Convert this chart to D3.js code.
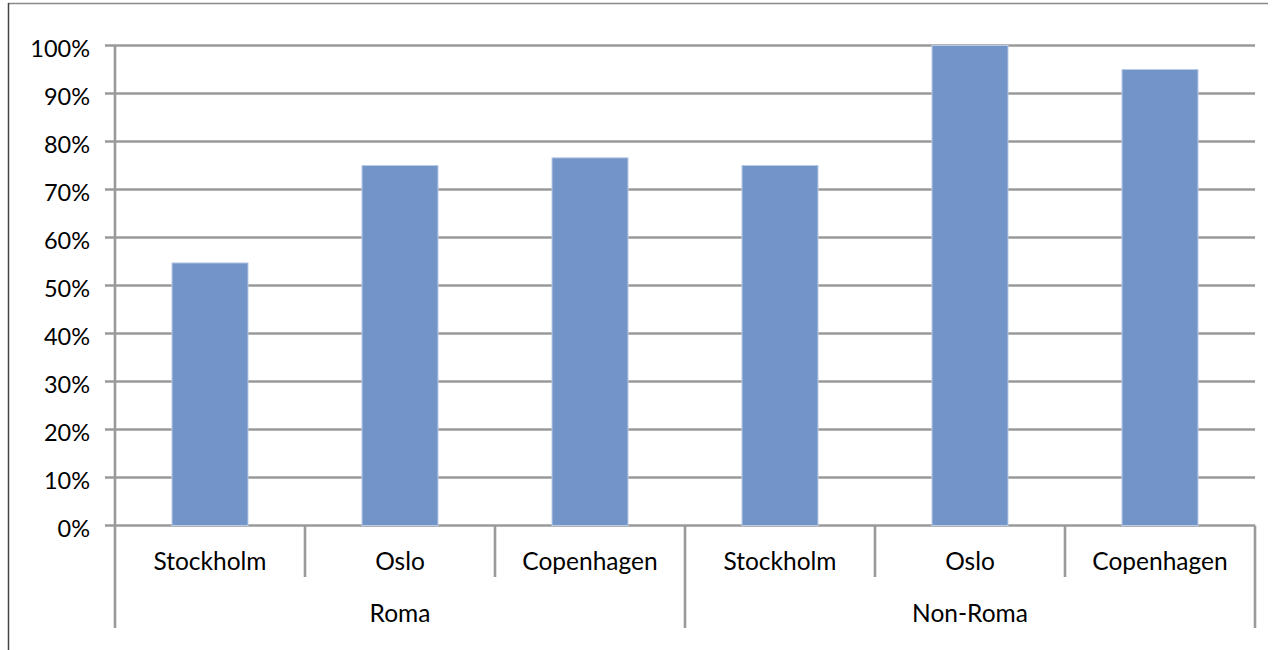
<!DOCTYPE html>
<html>
<head>
<meta charset="utf-8">
<script src="https://cdn.jsdelivr.net/npm/d3@7"></script>
<style>
  html, body { margin: 0; padding: 0; background: #fff; }
  svg { display: block; }
  text { font-family: Lato, "Open Sans", sans-serif; fill: #000; }
</style>
</head>
<body>
<svg id="chart" width="1272" height="650"></svg>
<script>
const groups = ["Roma", "Non-Roma"];
const cities = ["Stockholm", "Oslo", "Copenhagen"];
const categories = ["Roma|Stockholm", "Roma|Oslo", "Roma|Copenhagen", "Non-Roma|Stockholm", "Non-Roma|Oslo", "Non-Roma|Copenhagen"];
const values = [0.547, 0.75, 0.766, 0.75, 1.0, 0.95];
const yTicks = [0, 0.1, 0.2, 0.3, 0.4, 0.5, 0.6, 0.7, 0.8, 0.9, 1.0];

(function () {
const svg = d3.select("#chart");
const plotLeft = 115, plotRight = 1255, plotTop = 45.5, plotBottom = 525.5;
const gridColor = "#9a9a9a";

const x = d3.scaleBand().domain(categories).range([plotLeft, plotRight]).paddingInner(0.6).paddingOuter(0.3);
const xCat = d3.scaleBand().domain(categories).range([plotLeft, plotRight]).padding(0);
const xGroup = d3.scaleBand().domain(groups).range([plotLeft, plotRight]).padding(0);
const y = d3.scaleLinear().domain([0, 1]).range([plotBottom, plotTop]);

// outer border (top and left visible)
svg.append("line").attr("x1", 8).attr("x2", 1268).attr("y1", 3.5).attr("y2", 3.5)
  .attr("stroke", "#8a8a8a").attr("stroke-width", 1.5);
svg.append("line").attr("x1", 8.5).attr("x2", 8.5).attr("y1", 3).attr("y2", 650)
  .attr("stroke", "#444").attr("stroke-width", 1.5);

// gridlines + tick marks
svg.append("g").selectAll("line").data(yTicks).join("line")
  .attr("x1", plotLeft - 10).attr("x2", plotRight)
  .attr("y1", d => y(d)).attr("y2", d => y(d))
  .attr("stroke", gridColor).attr("stroke-width", 2.6);

// y labels
svg.append("g").selectAll("text").data(yTicks).join("text")
  .attr("x", 90).attr("y", d => y(d) + 11.5)
  .attr("text-anchor", "end").attr("font-size", 23.5)
  .text(d => d3.format(".0%")(d));

// y axis line
svg.append("line").attr("x1", plotLeft).attr("x2", plotLeft).attr("y1", plotTop).attr("y2", 628)
  .attr("stroke", gridColor).attr("stroke-width", 2.6);

// bars
svg.append("g").selectAll("rect").data(values).join("rect")
  .attr("x", (d, i) => x(categories[i]))
  .attr("width", x.bandwidth())
  .attr("y", d => y(d))
  .attr("height", d => y(0) - y(d))
  .attr("fill", "#7394c6")
  .attr("stroke", "#b9cbe8").attr("stroke-width", 1);

// category ticks (inner)
const innerTicks = categories.filter((c, i) => i % 3 !== 0).map(c => xCat(c));
svg.append("g").selectAll("line").data(innerTicks).join("line")
  .attr("x1", d => d).attr("x2", d => d).attr("y1", plotBottom).attr("y2", 577)
  .attr("stroke", gridColor).attr("stroke-width", 2.6);

// group dividers
const groupEdges = groups.map(g => xGroup(g)).concat([plotRight]);
svg.append("g").selectAll("line").data(groupEdges.slice(1)).join("line")
  .attr("x1", d => d).attr("x2", d => d).attr("y1", plotBottom).attr("y2", 628)
  .attr("stroke", gridColor).attr("stroke-width", 2.6);

// category labels
svg.append("g").selectAll("text").data(categories).join("text")
  .attr("x", d => xCat(d) + xCat.bandwidth() / 2)
  .attr("y", 570)
  .attr("text-anchor", "middle").attr("font-size", 24.5)
  .text(d => d.split("|")[1]);

// group labels
svg.append("g").selectAll("text").data(groups).join("text")
  .attr("x", d => xGroup(d) + xGroup.bandwidth() / 2)
  .attr("y", 622)
  .attr("text-anchor", "middle").attr("font-size", 24.5)
  .text(d => d);
})();
</script>
</body>
</html>
